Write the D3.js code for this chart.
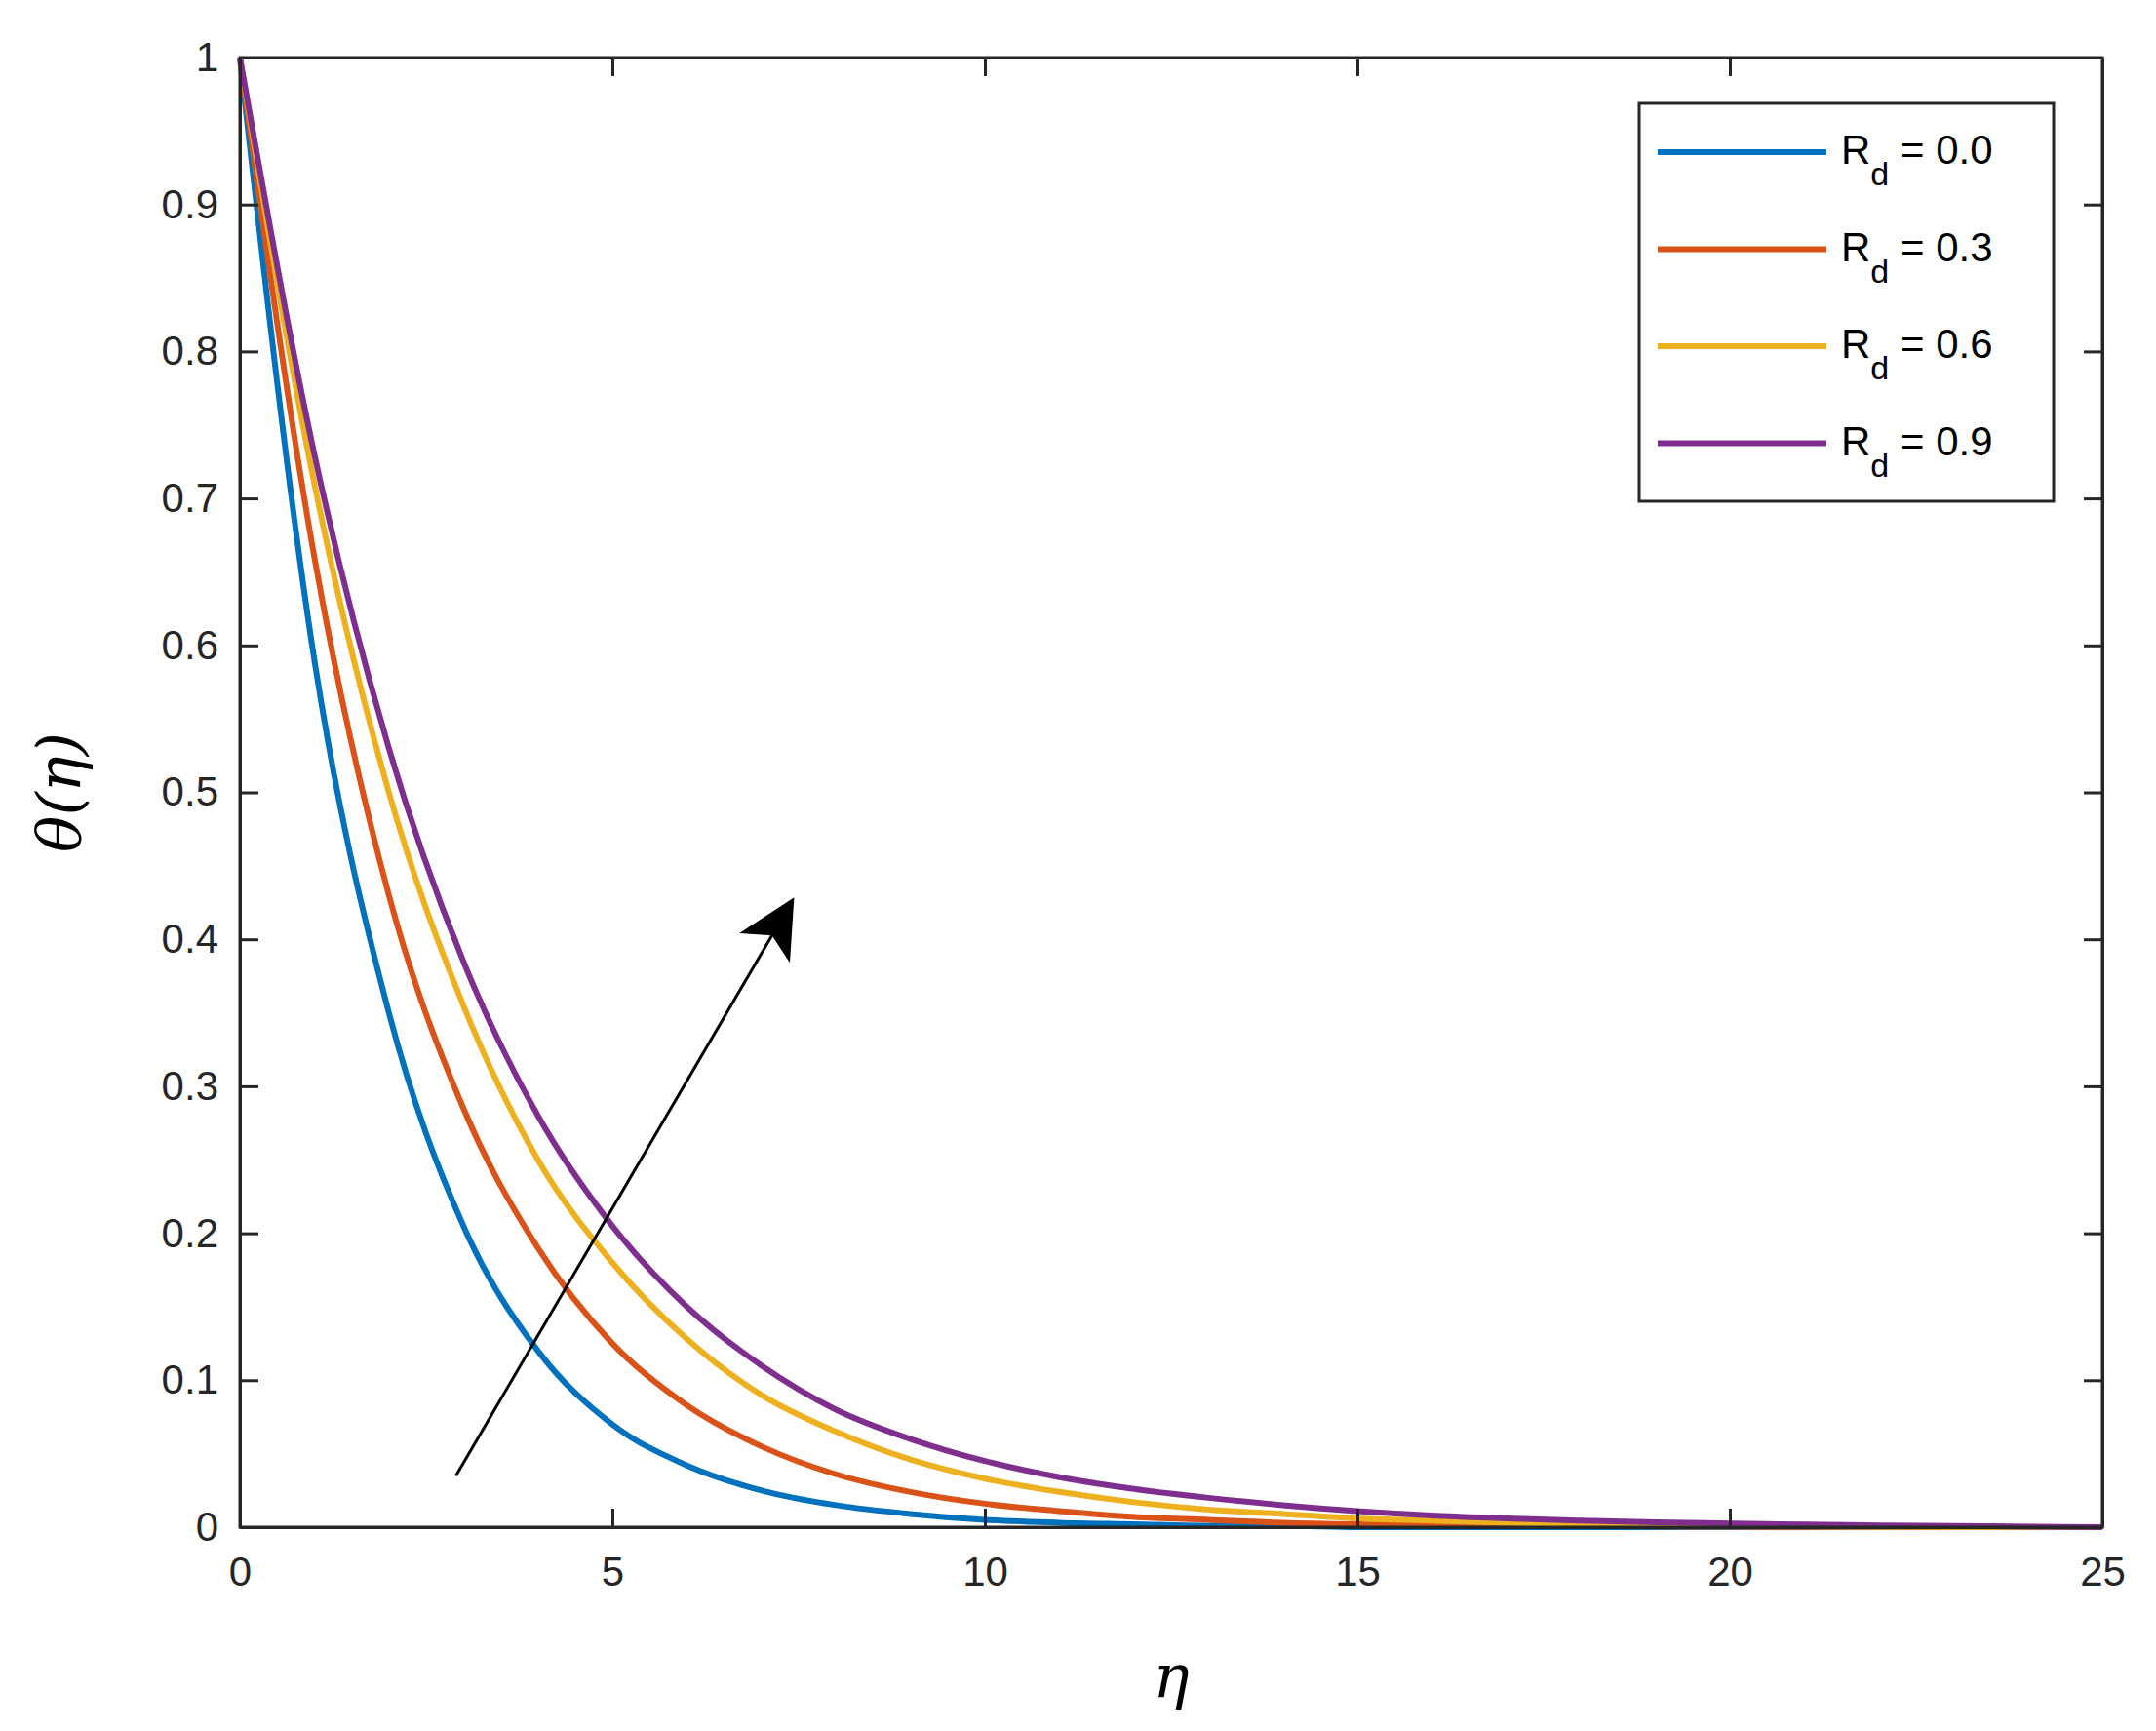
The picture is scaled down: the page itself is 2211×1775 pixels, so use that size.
<!DOCTYPE html>
<html><head><meta charset="utf-8">
<script src="https://cdn.jsdelivr.net/npm/d3@7"></script>
<style>body{margin:0;background:#fff}</style></head>
<body><svg id="c" width="2211" height="1775"></svg>
<script>
const eta = d3.range(0, 26, 1);
const rdLabels = ["0.0", "0.3", "0.6", "0.9"];
const colors = ["#0072BD", "#D95319", "#EDB120", "#7E2F8E"];
const blue   = [1,0.59,0.35,0.205,0.12,0.07,0.042,0.025,0.015,0.009,0.005,0.003,0.002,0.001,0.001,0,0,0,0,0,0,0,0,0,0,0];
const orange = [1,0.66,0.43,0.285,0.19,0.125,0.083,0.055,0.036,0.024,0.016,0.011,0.007,0.005,0.003,0.002,0.0015,0.001,0.0007,0.0005,0.0003,0.0002,0.0001,0,0,0];
const yellow = [1,0.71,0.50,0.355,0.25,0.18,0.128,0.09,0.065,0.046,0.033,0.024,0.017,0.012,0.009,0.006,0.0045,0.003,0.002,0.0015,0.001,0.0007,0.0004,0.0002,0.0001,0];
const purple = [1,0.73,0.53,0.385,0.28,0.205,0.15,0.11,0.08,0.06,0.045,0.034,0.026,0.02,0.015,0.011,0.008,0.006,0.0045,0.0033,0.0025,0.0018,0.0012,0.0008,0.0004,0];
const series = [blue, orange, yellow, purple];
const xTicks = [0,5,10,15,20,25];
const yTicks = d3.range(0, 1.01, 0.1);

const L=246,R=2156,T=59,B=1566;
const svg=d3.select("#c");
const x=d3.scaleLinear().domain([0,25]).range([L,R]);
const y=d3.scaleLinear().domain([0,1]).range([B,T]);
const font="Helvetica, Arial, 'Liberation Sans', sans-serif";
const ink="#262626";

const clip=svg.append("clipPath").attr("id","cl").append("rect").attr("x",L).attr("y",T-5).attr("width",R-L).attr("height",B-T+5);
const line=d3.line().x((d,i)=>x(eta[i])).y(d=>y(d)).curve(d3.curveMonotoneX);
series.forEach((s,k)=>svg.append("path").attr("d",line(s)).attr("fill","none").attr("stroke",colors[k]).attr("stroke-width",6));

function styleAxis(g){g.selectAll("path,line").attr("stroke",ink).attr("stroke-width",3);g.selectAll("text").attr("font-family",font).attr("font-size",42).attr("fill",ink);}
svg.append("g").attr("transform",`translate(0,${B})`).call(d3.axisBottom(x).tickValues(xTicks).tickSize(-19).tickPadding(30).tickSizeOuter(0)).call(styleAxis);
svg.append("g").attr("transform",`translate(0,${T})`).call(d3.axisTop(x).tickValues(xTicks).tickSize(-19).tickFormat("").tickSizeOuter(0)).call(styleAxis);
svg.append("g").attr("transform",`translate(${L},0)`).call(d3.axisLeft(y).tickValues(yTicks).tickSize(-19).tickPadding(22).tickFormat(d=>d3.format(".1~f")(d)).tickSizeOuter(0)).call(styleAxis);
svg.append("g").attr("transform",`translate(${R},0)`).call(d3.axisRight(y).tickValues(yTicks).tickSize(-19).tickFormat("").tickSizeOuter(0)).call(styleAxis);
svg.append("rect").attr("x",L).attr("y",T).attr("width",R-L).attr("height",B-T).attr("fill","none").attr("stroke",ink).attr("stroke-width",3);

// arrow
svg.append("defs").append("marker").attr("id","ah").attr("viewBox","0 0 10 10").attr("refX",9).attr("refY",5)
 .attr("markerWidth",20).attr("markerHeight",20).attr("markerUnits","userSpaceOnUse").attr("orient","auto")
 .append("path").attr("d","M0,0 L10,5 L0,10 L2.5,5 Z").attr("fill","#000");
svg.select("marker").attr("markerWidth",60).attr("markerHeight",60);
svg.append("line").attr("x1",x(2.9)).attr("y1",y(0.035)).attr("x2",x(7.4)).attr("y2",y(0.425)).attr("stroke","#000").attr("stroke-width",3).attr("marker-end","url(#ah)");

// labels
svg.append("text").attr("x",(L+R)/2).attr("y",1740).attr("text-anchor","middle").attr("font-family","'DejaVu Serif', serif").attr("font-style","italic").attr("font-size",62).text("η");
svg.append("text").attr("transform",`translate(82,${(T+B)/2}) rotate(-90)`).attr("text-anchor","middle").attr("font-family","'DejaVu Serif', serif").attr("font-style","italic").attr("font-size",62).text("θ(η)");

// legend
const lg=svg.append("g");
lg.append("rect").attr("x",1681).attr("y",106).attr("width",425).attr("height",408).attr("fill","#fff").attr("stroke",ink).attr("stroke-width",3);
rdLabels.forEach((t,k)=>{
  const yy=156+k*99.5;
  lg.append("line").attr("x1",1700).attr("x2",1873).attr("y1",yy).attr("y2",yy).attr("stroke",colors[k]).attr("stroke-width",6);
  const tx=lg.append("text").attr("x",1888).attr("y",yy+12).attr("font-family",font).attr("font-size",42).attr("fill","#000");
  tx.append("tspan").text("R");
  tx.append("tspan").attr("dy",22).attr("font-size",34).text("d");
  tx.append("tspan").attr("dy",-22).text(" = "+t);
});
</script></body></html>
